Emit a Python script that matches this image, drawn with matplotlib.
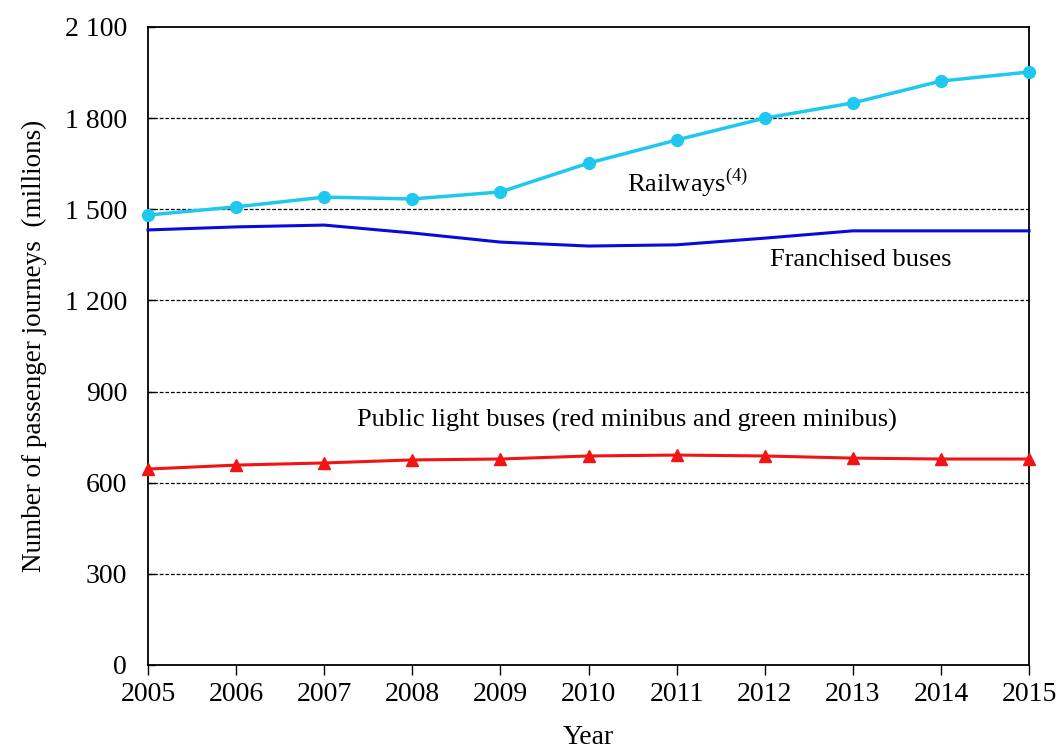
import matplotlib
matplotlib.use("Agg")
import matplotlib.pyplot as plt
from matplotlib.ticker import FuncFormatter

years = [2005, 2006, 2007, 2008, 2009, 2010, 2011, 2012, 2013, 2014, 2015]
railways = [1481, 1508, 1540, 1534, 1557, 1652, 1728, 1800, 1850, 1922, 1952]
franchised_buses = [1432, 1442, 1448, 1422, 1392, 1379, 1383, 1405, 1429, 1429, 1429]
public_light_buses = [645, 658, 665, 675, 678, 688, 691, 688, 681, 678, 678]
yticks = [0, 300, 600, 900, 1200, 1500, 1800, 2100]

plt.rcParams['font.family'] = ['Liberation Serif', 'DejaVu Serif']
plt.rcParams['mathtext.fontset'] = 'custom'
plt.rcParams['mathtext.rm'] = 'Liberation Serif'

fig = plt.figure(figsize=(10.58, 7.52), dpi=100)
ax = fig.add_axes([0.1399, 0.1157, 0.9726 - 0.1399, 0.9641 - 0.1157])

ax.plot(years, railways, color='#1EC8EE', lw=2.5, marker='o', ms=8.5, zorder=4, clip_on=False)
ax.plot(years, franchised_buses, color='#0A0ADC', lw=2.2, zorder=3, clip_on=False)
ax.plot(years, public_light_buses, color='#F01414', lw=2.2, marker='^', ms=8, zorder=3, clip_on=False)

ax.set_xlim(2005, 2015)
ax.set_ylim(0, 2100)
ax.set_xticks(years)
ax.set_yticks(yticks)
ax.yaxis.set_major_formatter(FuncFormatter(lambda v, p: f"{int(v):,}".replace(",", " ")))
for y in yticks[1:-1]:
    ax.axhline(y, color='black', lw=0.9, ls=(0, (3, 1.5)), zorder=1)

ax.tick_params(axis='x', direction='out', length=7, width=1, labelsize=20, pad=5)
ax.tick_params(axis='y', direction='in', length=5, width=1, labelsize=20, pad=15)
for s in ax.spines.values():
    s.set_linewidth(1.3)

ax.set_xlabel('Year', fontsize=20, labelpad=13)
ax.set_ylabel('Number of passenger journeys  (millions)', fontsize=19.5, labelpad=13)

ax.text(2010.44, 1587, r'Railways$^{\mathrm{(4)}}$', fontsize=19, va='center', ha='left')
ax.text(2012.06, 1333, 'Franchised buses', fontsize=19, va='center', ha='left')
ax.text(2007.37, 806, 'Public light buses (red minibus and green minibus)', fontsize=19, va='center', ha='left')

fig.savefig('out.png', dpi=100)
